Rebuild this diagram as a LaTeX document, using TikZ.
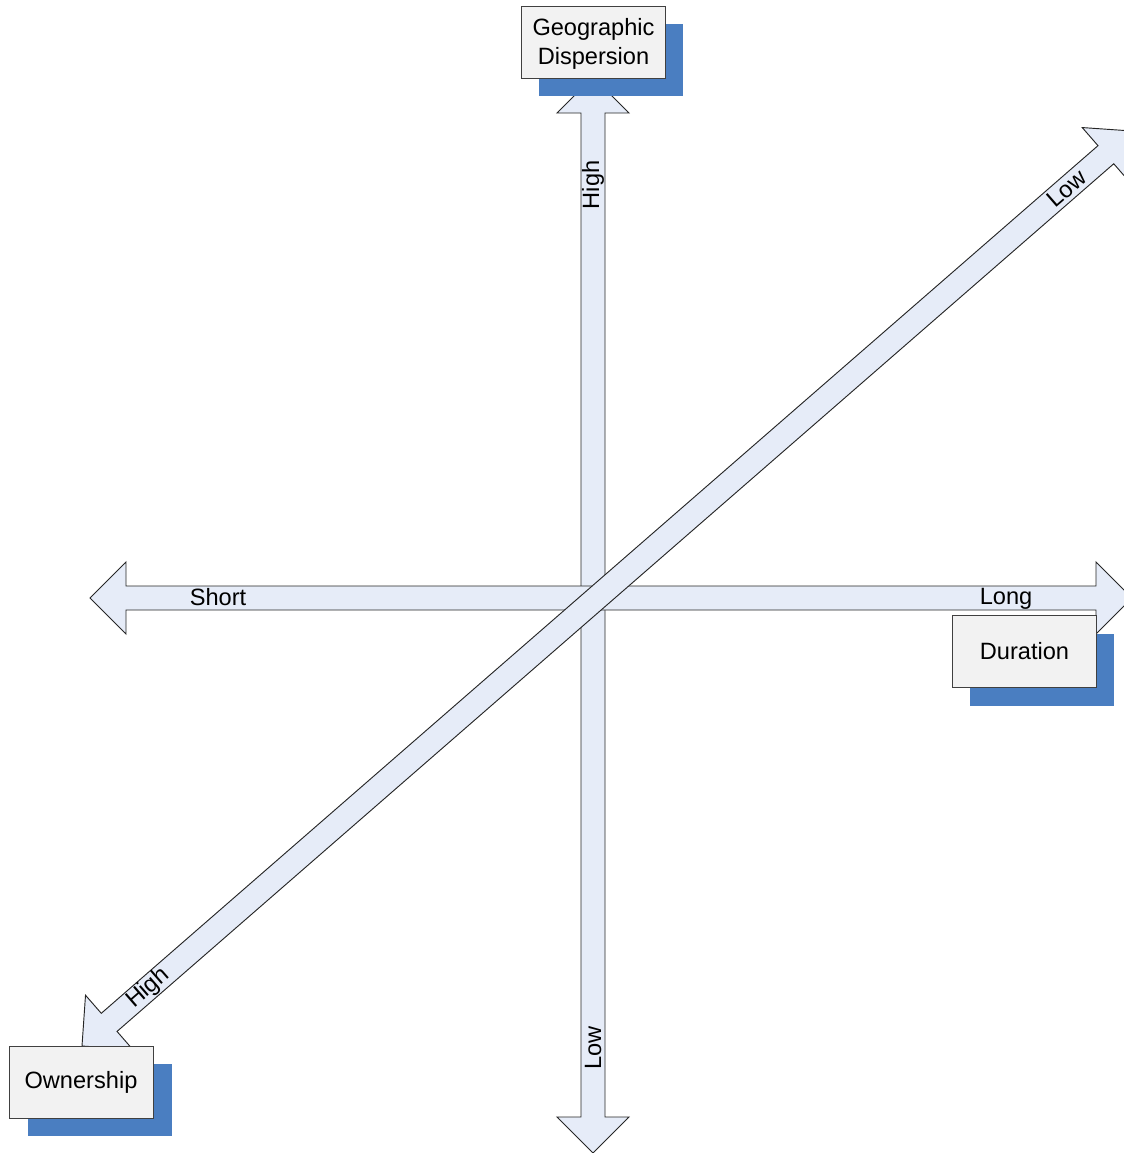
\documentclass[tikz,border=0pt]{standalone}
\usepackage{fontspec}
\setmainfont{Liberation Sans}
\definecolor{arrowfill}{RGB}{230,236,248}
\definecolor{boxfill}{RGB}{242,242,242}
\definecolor{shadowblue}{RGB}{74,126,193}
\newcommand{\lblfont}{\fontsize{17.7pt}{21.75pt}\selectfont}
\tikzset{
  arrowshape/.style={draw=black!85, fill=arrowfill, line width=0.7pt, line join=miter},
  labelbox/.style={draw=black!75, fill=boxfill, line width=0.7pt, minimum width=108pt, minimum height=54pt, inner sep=0pt, font=\lblfont, align=center},
  shadowbox/.style={fill=shadowblue, minimum width=108pt, minimum height=54pt, inner sep=0pt},
  axislabel/.style={font=\lblfont, inner sep=0pt},
}
\begin{document}
\begin{tikzpicture}[x=0.75pt, y=-0.75pt]
\useasboundingbox (0,0) rectangle (1124,1153);
\clip (0,0) rectangle (1124,1153);
% vertical arrow
\draw[arrowshape] (593,77) -- (629,113) -- (605,113) -- (605,1117) -- (629,1117) -- (593,1153) -- (557,1117) -- (581,1117) -- (581,113) -- (557,113) -- cycle;
\node[axislabel, rotate=90] (vhigh) at (593,185) {High};
\node[axislabel, rotate=90] (vlow) at (593,1048) {Low};
% horizontal arrow
\draw[arrowshape] (90,598) -- (126,562) -- (126,586) -- (1096,586) -- (1096,562) -- (1132,598) -- (1096,634) -- (1096,610) -- (126,610) -- (126,634) -- cycle;
\node[axislabel] (hshort) at (218,597) {Short};
\node[axislabel] (hlong) at (1006,598.5) {Long};
% diagonal arrow
\begin{scope}[shift={(82,1046)}, rotate=41.04, x=0.75pt, y=0.75pt]
\draw[arrowshape] (0,0) -- (36,36) -- (36,12) -- (1357.5,12) -- (1357.5,36) -- (1393.5,0) -- (1357.5,-36) -- (1357.5,-12) -- (36,-12) -- (36,-36) -- cycle;
\node[axislabel, transform shape] (dhigh) at (88,0) {High};
\node[axislabel, transform shape] (dlow) at (1306,0) {Low};
\end{scope}
% boxes
\node[shadowbox] (geoshadow) at (611,60) {};
\node[labelbox] (geo) at (593.5,42) {};
\node[axislabel, align=center] (geotext) at (593.5,43.5) {Geographic\\Dispersion};
\node[shadowbox] (durshadow) at (1042,670) {};
\node[labelbox] (dur) at (1024.5,651.5) {Duration};
\node[shadowbox] (ownshadow) at (99.5,1100) {};
\node[labelbox] (own) at (81,1082) {Ownership};
\end{tikzpicture}
\end{document}
